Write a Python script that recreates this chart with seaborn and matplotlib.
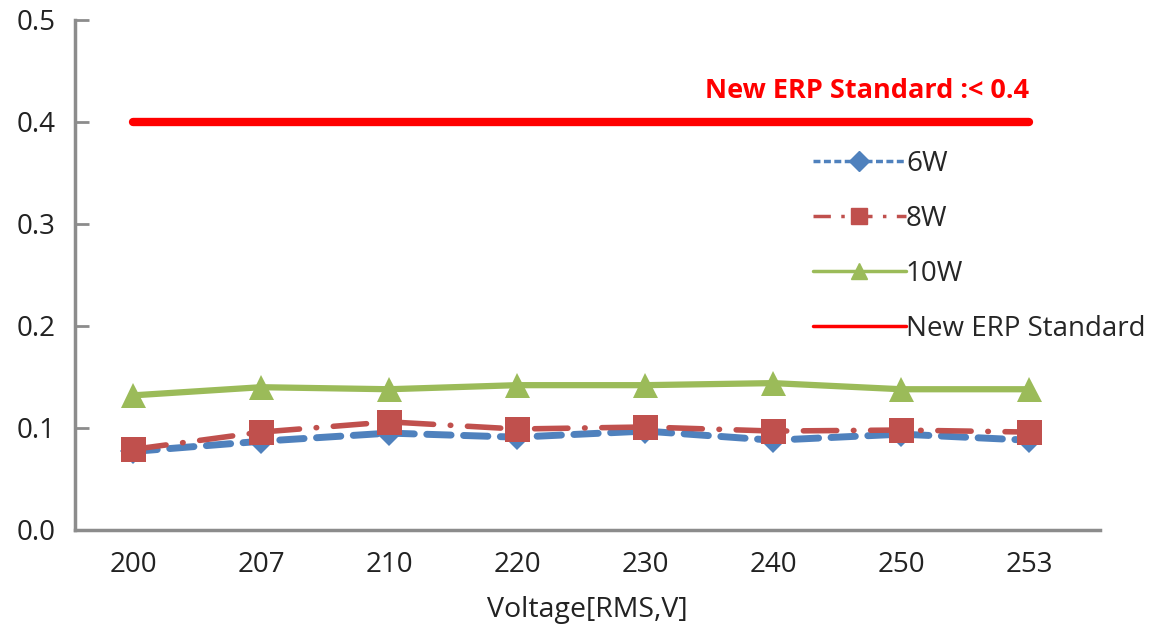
import numpy as np
import pandas as pd
import matplotlib
matplotlib.use('Agg')
import matplotlib.pyplot as plt
from matplotlib.lines import Line2D
import seaborn as sns

# ── datos ─────────────────────────────────────────────────────────────────
voltajes = ['200', '207', '210', '220', '230', '240', '250', '253']
p6w  = [0.077, 0.087, 0.095, 0.091, 0.097, 0.088, 0.094, 0.088]
p8w  = [0.079, 0.096, 0.106, 0.099, 0.101, 0.097, 0.098, 0.096]
p10w = [0.132, 0.140, 0.138, 0.142, 0.142, 0.144, 0.138, 0.138]
erp  = [0.4] * len(voltajes)

AZUL = '#4F81BD'; ROJO = '#C0504D'; VERDE = '#9BBB59'; ERP_ROJO = '#FF0000'; GRIS = '#8C8C8C'

sns.set_style('white')
plt.rcParams['font.family'] = ['Open Sans', 'DejaVu Sans']

df = pd.DataFrame({'x': np.arange(len(voltajes)), '6W': p6w, '8W': p8w, '10W': p10w, 'ERP': erp})

fig = plt.figure(figsize=(11.6, 6.25), dpi=100)
ax = fig.add_axes([0.065, 0.152, 0.883, 0.816])

sns.lineplot(data=df, x='x', y='ERP', ax=ax, color=ERP_ROJO, lw=6, solid_capstyle='round')
sns.lineplot(data=df, x='x', y='10W', ax=ax, color=VERDE, lw=4.5, marker='^', markersize=18,
             markeredgewidth=0)
sns.lineplot(data=df, x='x', y='6W', ax=ax, color=AZUL, lw=5, marker='D', markersize=13,
             markeredgewidth=0, dashes=(3.5, 1.8), dash_capstyle='round')
sns.lineplot(data=df, x='x', y='8W', ax=ax, color=ROJO, lw=4, marker='s', markersize=18,
             markeredgewidth=0, dashes=(6, 3, 0.1, 3), dash_capstyle='round')

ax.set_xlim(-0.45, 7.55)
ax.set_ylim(0, 0.5)
ax.set_xticks(np.arange(len(voltajes)))
ax.set_xticklabels(voltajes)
ax.set_xticks(np.arange(len(voltajes) + 1) - 0.45, minor=True)
ax.set_yticks([0, 0.1, 0.2, 0.3, 0.4, 0.5])
ax.set_yticklabels(['0.0', '0.1', '0.2', '0.3', '0.4', '0.5'])
ax.tick_params(axis='x', which='major', length=0, labelsize=20, pad=15, colors='#222222')
ax.tick_params(axis='x', which='minor', direction='in', length=10, width=2, color=GRIS)
ax.tick_params(axis='y', direction='in', length=10, width=2, color=GRIS, labelsize=20,
               labelcolor='#222222', pad=14, left=True)
for lado in ['top', 'right']:
    ax.spines[lado].set_visible(False)
for lado in ['left', 'bottom']:
    ax.spines[lado].set_color(GRIS); ax.spines[lado].set_linewidth(2.5)

ax.set_xlabel('Voltage[RMS,V]', fontsize=20.5, color='#222222', labelpad=12)
ax.set_ylabel('')

ax.text(7, 0.43, 'New ERP Standard :< 0.4', color=ERP_ROJO, fontsize=19.5, fontweight='bold',
        ha='right', va='center')

handles = [
    Line2D([], [], color=AZUL, lw=2.5, ls=(0, (2, 1)), marker='D', markersize=10),
    Line2D([], [], color=ROJO, lw=2.5, ls=(0, (5, 3, 1, 3)), marker='s', markersize=11),
    Line2D([], [], color=VERDE, lw=2.5, marker='^', markersize=12),
    Line2D([], [], color=ERP_ROJO, lw=2.5),
]
ax.legend(handles, ['6W', '8W', '10W', 'New ERP Standard'], loc='upper left',
          bbox_to_anchor=(0.72, 0.745), frameon=False, fontsize=20, handlelength=3.35,
          handletextpad=0.0, labelspacing=0.97, borderaxespad=0, borderpad=0)

fig.savefig('out.png', dpi=100)
